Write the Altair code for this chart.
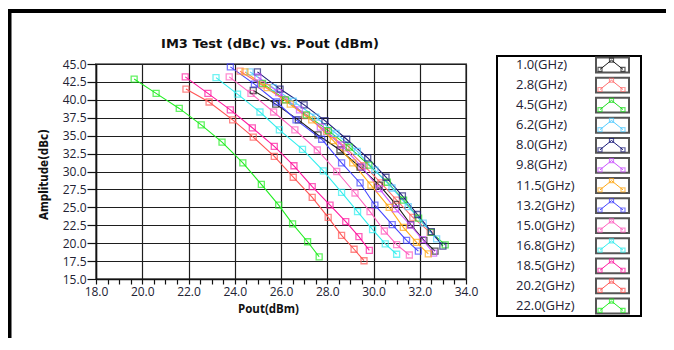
import altair as alt
import pandas as pd

chart_title = "IM3 Test (dBc) vs. Pout (dBm)"
series_names = ["1.0(GHz)", "2.8(GHz)", "4.5(GHz)", "6.2(GHz)", "8.0(GHz)", "9.8(GHz)",
                "11.5(GHz)", "13.2(GHz)", "15.0(GHz)", "16.8(GHz)", "18.5(GHz)", "20.2(GHz)", "22.0(GHz)"]
series_colors = ["#1a1a1a", "#ff6f6f", "#22dd22", "#55ccff", "#1c1c7a", "#cc55ff",
                 "#ffaa1a", "#4545ff", "#ff60c0", "#33eeee", "#ff1aa0", "#ff5555", "#22ee22"]

pout_1_0 = [24.8, 25.77, 26.75, 27.6, 28.55, 29.42, 30.25, 30.97, 31.61, 32.18, 32.66]
im3_1_0 = [41.3, 39.4, 37.2, 35.1, 33.0, 30.6, 28.1, 25.4, 22.6, 20.4, 18.9]
pout_2_8 = [24.23, 25.16, 26.14, 27.04, 27.97, 28.81, 29.6, 30.32, 31.0, 31.7, 32.45]
im3_2_8 = [44.0, 42.1, 40.0, 37.8, 35.6, 33.3, 30.8, 28.4, 26.0, 23.6, 21.5]
pout_4_5 = [25.2, 26.2, 27.1, 28.05, 28.95, 29.8, 30.6, 31.3, 31.95, 32.5, 33.1]
im3_4_5 = [42.3, 40.0, 37.9, 35.7, 33.4, 30.9, 28.5, 26.0, 23.5, 21.5, 19.75]
pout_6_2 = [24.66, 25.66, 26.53, 27.5, 28.38, 29.3, 30.06, 30.8, 31.5, 32.15, 32.73]
im3_6_2 = [43.9, 41.7, 39.8, 37.6, 35.3, 32.8, 30.2, 27.7, 25.1, 22.8, 20.6]
pout_8_0 = [24.98, 25.96, 27.0, 27.9, 28.84, 29.75, 30.54, 31.25, 31.9, 32.5, 33.0]
im3_8_0 = [43.9, 41.5, 39.3, 37.1, 34.5, 31.9, 29.2, 26.6, 24.0, 21.6, 19.6]
pout_9_8 = [25.0, 25.9, 26.8, 27.7, 28.6, 29.5, 30.25, 30.95, 31.6, 32.12, 32.6]
im3_9_8 = [43.2, 41.0, 38.6, 36.2, 33.7, 30.6, 27.6, 24.8, 22.5, 20.5, 18.6]
pout_11_5 = [24.44, 25.4, 26.4, 27.33, 28.26, 29.1, 29.89, 30.68, 31.29, 31.86, 32.37]
im3_11_5 = [43.9, 41.7, 39.4, 37.2, 34.3, 31.2, 28.1, 25.0, 22.2, 20.1, 18.5]
pout_13_2 = [23.81, 24.85, 25.81, 26.65, 27.76, 28.62, 29.42, 30.06, 30.81, 31.43, 31.94]
im3_13_2 = [44.6, 42.2, 39.7, 37.2, 34.5, 31.2, 28.4, 25.3, 22.6, 20.4, 18.9]
pout_15_0 = [23.76, 24.7, 25.68, 26.6, 27.57, 28.41, 29.2, 29.85, 30.47, 31.0, 31.55]
im3_15_0 = [43.2, 40.9, 38.3, 35.8, 33.0, 30.0, 27.0, 24.4, 21.7, 19.8, 18.35]
pout_16_8 = [23.19, 24.12, 25.09, 25.93, 26.93, 27.83, 28.62, 29.31, 29.96, 30.51, 31.0]
im3_16_8 = [43.1, 40.8, 38.3, 35.8, 33.1, 30.1, 27.1, 24.4, 21.9, 19.9, 18.45]
pout_18_5 = [21.86, 22.84, 23.81, 24.76, 25.71, 26.56, 27.35, 28.12, 28.8, 29.37, 29.82]
im3_18_5 = [43.2, 40.9, 38.6, 36.1, 33.5, 30.8, 27.9, 25.3, 23.0, 20.9, 19.0]
pout_20_2 = [21.89, 22.89, 23.91, 24.8, 25.71, 26.53, 27.35, 28.04, 28.62, 29.16, 29.59]
im3_20_2 = [41.5, 39.7, 37.2, 34.8, 32.1, 29.2, 26.4, 23.6, 21.1, 19.15, 17.55]
pout_22_0 = [19.65, 20.6, 21.6, 22.55, 23.45, 24.35, 25.15, 25.9, 26.5, 27.15, 27.65]
im3_22_0 = [42.9, 40.9, 38.8, 36.5, 34.1, 31.2, 28.2, 25.3, 22.7, 20.2, 18.1]

pout_all = [pout_1_0, pout_2_8, pout_4_5, pout_6_2, pout_8_0, pout_9_8, pout_11_5,
            pout_13_2, pout_15_0, pout_16_8, pout_18_5, pout_20_2, pout_22_0]
im3_all = [im3_1_0, im3_2_8, im3_4_5, im3_6_2, im3_8_0, im3_9_8, im3_11_5,
           im3_13_2, im3_15_0, im3_16_8, im3_18_5, im3_20_2, im3_22_0]

x_tick_values = [18 + 0.5 * i for i in range(33)]
y_tick_values = [15.0, 17.5, 20.0, 22.5, 25.0, 27.5, 30.0, 32.5, 35.0, 37.5, 40.0, 42.5, 45.0]

rows = []
for name, ps, vs in zip(series_names, pout_all, im3_all):
    for i, (p, v) in enumerate(zip(ps, vs)):
        rows.append({"series": name, "pout": p, "im3": v, "idx": i})
df = pd.DataFrame(rows)

leg_df = pd.DataFrame({"series": series_names, "row": list(range(len(series_names)))})
glyph_x = [0, 1, 2]
glyph_dy = [0.22, -0.24, 0.22]
leg_pts = pd.DataFrame([
    {"series": n, "row": r, "lx": gx, "ly": r + gy, "k": k}
    for r, n in enumerate(series_names)
    for k, (gx, gy) in enumerate(zip(glyph_x, glyph_dy))
])
title_df = pd.DataFrame({"text": [chart_title]})

FONT = "Open Sans"
NARROW = "DejaVu Sans Condensed, Roboto, sans-serif"
x_scale = alt.Scale(domain=[18, 34], nice=False, zero=False)
y_scale = alt.Scale(domain=[15, 45], nice=False, zero=False)
color_scale = alt.Scale(domain=series_names, range=series_colors)
row_scale = alt.Scale(domain=[0, 12], range=[1, 242], nice=False, zero=False)
glyph_scale = alt.Scale(domain=[0, 2], range=[504, 527], nice=False, zero=False)

x_axis = alt.Axis(
    values=x_tick_values,
    labelExpr="datum.value % 2 === 0 ? format(datum.value, '.1f') : ''",
    gridOpacity=alt.condition("datum.value % 2 === 0", alt.value(1), alt.value(0)),
    labelOverlap=False, labelFlush=False, tickSize=5, labelPadding=2,
    title="Pout(dBm)", titleX=172, titleY=30, titleBaseline="middle",
    titleFont=FONT, titleFontSize=11.5, titleFontWeight="bold",
)
y_axis = alt.Axis(
    values=y_tick_values, format=".1f", labelFlush=False, labelOverlap=False,
    tickSize=9, labelPadding=1,
    title="Amplitude(dBc)", titleX=-52, titleY=110, titleAngle=-90, titleBaseline="middle",
    titleFont=NARROW, titleFontSize=11.5, titleFontWeight="bold",
)

lines = alt.Chart(df).mark_line(strokeWidth=1.1).encode(
    x=alt.X("pout:Q", scale=x_scale, axis=x_axis),
    y=alt.Y("im3:Q", scale=y_scale, axis=y_axis),
    color=alt.Color("series:N", scale=color_scale, legend=None),
    order="idx:Q",
)
points = alt.Chart(df).mark_point(shape="square", filled=False, size=36, strokeWidth=1.3).encode(
    x=alt.X("pout:Q", scale=x_scale, axis=None),
    y=alt.Y("im3:Q", scale=y_scale, axis=None),
    color=alt.Color("series:N", scale=color_scale, legend=None),
)

title_mark = alt.Chart(title_df).mark_text(
    font="DejaVu Sans", fontSize=13, fontWeight="bold", color="#111", align="center", baseline="middle"
).encode(x=alt.value(174), y=alt.value(-20), text="text:N")

leg_frame = alt.Chart(leg_df).mark_rect(fill=None, stroke="black", strokeWidth=2).encode(
    x=alt.value(401), x2=alt.value(545), y=alt.value(-8), y2=alt.value(252)
).transform_filter("datum.row === 0")

leg_box = alt.Chart(leg_df).transform_calculate(
    y0="datum.row - 0.37", y1="datum.row + 0.37"
).mark_rect(fill="white", stroke="#555555", strokeWidth=2).encode(
    x=alt.value(500), x2=alt.value(533),
    y=alt.Y("y0:Q", scale=row_scale, axis=None), y2="y1:Q",
)
leg_text = alt.Chart(leg_df).mark_text(
    align="left", baseline="middle", font=FONT, fontSize=13, color="#222233"
).encode(
    x=alt.value(420), y=alt.Y("row:Q", scale=row_scale, axis=None), text="series:N"
)
leg_line = alt.Chart(leg_pts).mark_line(strokeWidth=1).encode(
    x=alt.X("lx:Q", scale=glyph_scale, axis=None),
    y=alt.Y("ly:Q", scale=row_scale, axis=None),
    color=alt.Color("series:N", scale=color_scale, legend=None),
    order="k:Q",
)
leg_marks = alt.Chart(leg_pts).mark_point(shape="square", filled=False, size=16, strokeWidth=1.2).encode(
    x=alt.X("lx:Q", scale=glyph_scale, axis=None),
    y=alt.Y("ly:Q", scale=row_scale, axis=None),
    color=alt.Color("series:N", scale=color_scale, legend=None),
)

frame_top = alt.Chart(leg_df).mark_rule(color="black", strokeWidth=4).encode(
    x=alt.value(-92), x2=alt.value(600), y=alt.value(-53)
).transform_filter("datum.row === 0")
frame_left = alt.Chart(leg_df).mark_rule(color="black", strokeWidth=4).encode(
    x=alt.value(-86.5), y=alt.value(-55), y2=alt.value(300)
).transform_filter("datum.row === 0")

chart = alt.layer(
    lines, points, title_mark, leg_frame, leg_box, leg_text, leg_line, leg_marks, frame_top, frame_left
).resolve_scale(
    x="independent", y="independent"
).properties(
    width=370, height=215,
    autosize=alt.AutoSizeParams(type="none"),
    padding={"left": 88, "top": 56, "right": 200, "bottom": 59},
).configure_view(
    stroke="#808080", strokeWidth=2
).configure_axis(
    labelFont=FONT, labelFontSize=12, labelColor="#222233",
    domainColor="#111", domainWidth=1.5, tickColor="#111", tickWidth=1.2,
    gridColor="#1e1e1e", gridWidth=1.2, titleColor="#111",
)

chart.save("out.html", embed_options={"renderer": "svg", "actions": False})
